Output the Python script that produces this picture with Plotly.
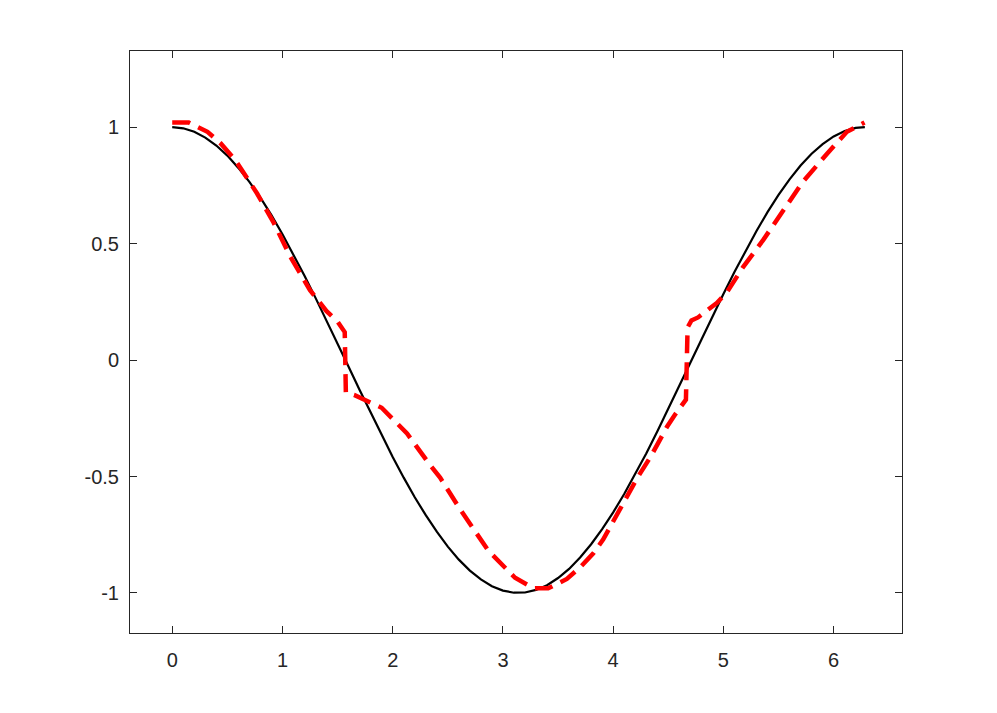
import plotly.graph_objects as go

# black reference curve
x_ref = [0.0, 0.1, 0.2, 0.3, 0.4, 0.5, 0.6, 0.7, 0.8, 0.9, 1.0, 1.1, 1.2, 1.3, 1.4, 1.5,
         1.6, 1.7, 1.8, 1.9, 2.0, 2.1, 2.2, 2.3, 2.4, 2.5, 2.6, 2.7, 2.8, 2.9, 3.0, 3.1,
         3.2, 3.3, 3.4, 3.5, 3.6, 3.7, 3.8, 3.9, 4.0, 4.1, 4.2, 4.3, 4.4, 4.5, 4.6, 4.7,
         4.8, 4.9, 5.0, 5.1, 5.2, 5.3, 5.4, 5.5, 5.6, 5.7, 5.8, 5.9, 6.0, 6.1, 6.2, 6.283]
y_ref = [1.000, 0.995, 0.980, 0.955, 0.921, 0.878, 0.825, 0.765, 0.697, 0.622, 0.540,
         0.454, 0.362, 0.267, 0.170, 0.071, -0.029, -0.129, -0.227, -0.323, -0.416,
         -0.505, -0.589, -0.666, -0.737, -0.801, -0.857, -0.904, -0.942, -0.971, -0.990,
         -0.999, -0.998, -0.987, -0.967, -0.936, -0.897, -0.848, -0.791, -0.726, -0.654,
         -0.575, -0.490, -0.401, -0.307, -0.211, -0.112, -0.012, 0.087, 0.187, 0.284,
         0.378, 0.469, 0.554, 0.635, 0.709, 0.776, 0.835, 0.886, 0.927, 0.960, 0.983,
         0.997, 1.000]

# red dashed approximation
x_fit = [0.00, 0.15, 0.32, 0.44, 0.57, 0.77, 0.92, 1.07, 1.25, 1.40, 1.50, 1.565,
         1.575, 1.65, 1.90, 2.02, 2.13, 2.33, 2.43, 2.61, 2.87, 3.11, 3.28, 3.41,
         3.58, 3.70, 3.82, 3.91, 4.06, 4.22, 4.34, 4.49, 4.56, 4.66, 4.675, 4.71,
         4.77, 4.94, 5.03, 5.18, 5.36, 5.54, 5.72, 5.94, 6.12, 6.28]
y_fit = [1.02, 1.02, 0.98, 0.93, 0.86, 0.715, 0.59, 0.445, 0.30, 0.21, 0.165, 0.12,
         -0.14, -0.15, -0.205, -0.265, -0.315, -0.445, -0.505, -0.64, -0.82, -0.935,
         -0.98, -0.98, -0.94, -0.89, -0.83, -0.77, -0.64, -0.505, -0.415, -0.285,
         -0.235, -0.17, 0.14, 0.17, 0.183, 0.245, 0.29, 0.40, 0.515, 0.64, 0.765,
         0.886, 0.98, 1.02]

x_ticks = [0, 1, 2, 3, 4, 5, 6]
y_ticks = [-1, -0.5, 0, 0.5, 1]
y_tick_text = ["-1", "-0.5", "0", "0.5", "1"]

fig = go.Figure()
fig.add_scatter(x=x_ref, y=y_ref, mode="lines", line=dict(color="black", width=2.2),
                showlegend=False)
fig.add_scatter(x=x_fit, y=y_fit, mode="lines", line=dict(color="#ff0000", width=4.5, dash="18px,9px"),
                showlegend=False)

axis_style = dict(
    showgrid=False, zeroline=False, showline=True, linecolor="#262626", linewidth=1,
    mirror="ticks", ticks="inside", ticklen=7, tickcolor="#262626",
    tickfont=dict(family="Liberation Sans, Arial, sans-serif", size=20, color="#262626"),
)
# page body adds an 8px offset, so the figure is a little smaller than the window
fig.update_layout(
    width=981, height=697,
    margin=dict(l=122, r=87, t=43, b=72),
    plot_bgcolor="white", paper_bgcolor="white",
    xaxis=dict(range=[-0.383, 6.62], tickvals=x_ticks, ticklabelstandoff=9, **axis_style),
    yaxis=dict(range=[-1.172, 1.327], tickvals=y_ticks, ticktext=y_tick_text,
               ticklabelstandoff=6, **axis_style),
)
fig.write_html("out.html")
